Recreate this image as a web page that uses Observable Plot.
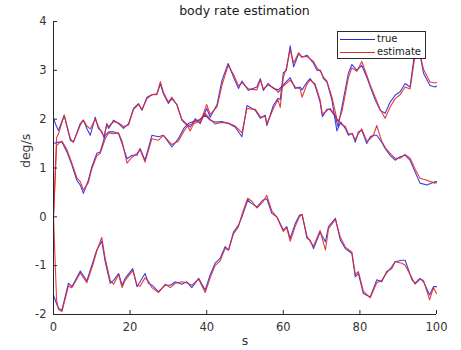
<!DOCTYPE html>
<html><head><meta charset="utf-8">
<script src="https://cdn.jsdelivr.net/npm/d3@7"></script>
<script src="https://cdn.jsdelivr.net/npm/@observablehq/plot@0.6"></script>
<style>
body{margin:0;background:#fff;font-family:"DejaVu Sans",sans-serif;}
#wrap{position:relative;width:461px;height:350px;}
#chart{position:absolute;left:0;top:0;}
#title{position:absolute;left:53px;top:2px;width:383px;height:17px;line-height:17px;text-align:center;font-size:12.5px;color:#1a1a1a;}
#legend{position:absolute;left:337px;top:31px;width:89px;height:28px;box-sizing:border-box;border:1px solid #2a2a2a;background:#fff;font-size:10px;color:#1a1a1a;}
#legend .ln{position:absolute;left:2px;width:35px;height:0;}
#legend .tx{position:absolute;left:39px;line-height:12px;}
</style></head><body>
<div id="wrap">
<div id="chart"></div>
<div id="title">body rate estimation</div>
<div id="legend"></div>
</div>
<script>
const seriesNames = ["true", "estimate"];
const seriesColors = ["#2727e0", "#e42626"];
const xTicks = [0, 20, 40, 60, 80, 100];
const yTicks = [-2, -1, 0, 1, 2, 3, 4];

const tA = [0,0.8,1.3,2.8,4.4,5.2,7,7.8,8.7,9.6,10.9,11.7,12.6,13.2,13.9,14.4,15.7,17,18.3,19.6,20.9,22.2,23.1,24.4,25.7,27,27.9,28.7,30,30.9,32.2,33.5,34.8,35.7,37,38.3,40,40.9,42.7,44,45.6,47,48.3,49.2,50.9,53.1,54,54.8,56,57.4,58.7,60,61.8,63.1,64.4,64.9,66.2,67,68.3,69.6,70.2,71.4,72.2,73.6,74.3,75.3,77,77.9,79.2,80.5,81.8,82.7,84,85.3,86.6,87.9,89.2,90.5,91.8,93.1,94.2,95.2,96.6,98.3,99.6,100];
const trueA = [2.01,1.85,1.77,2.08,1.57,1.53,1.91,1.98,1.81,1.67,2.04,1.81,1.75,1.62,1.91,1.81,1.98,1.91,1.81,1.91,2.22,2.32,2.18,2.45,2.5,2.52,2.72,2.52,2.32,2.42,2.3,1.98,1.88,1.84,2.01,1.91,2.22,2.04,2.3,2.8,3.14,2.86,2.63,2.78,2.59,2.66,2.83,2.59,2.73,2.63,2.6,2.7,2.85,2.63,2.66,2.6,2.76,2.83,2.69,2.35,2.05,2.2,2.2,2.05,1.84,2.25,2.94,3.12,3.0,3.1,2.86,2.66,2.39,2.18,2.12,2.35,2.49,2.56,2.73,2.66,3.3,3.55,2.94,2.69,2.66,2.68];
const estA = [0,1.62,1.7,2.08,1.6,1.53,1.88,1.98,1.86,1.8,2.0,1.86,1.72,1.65,1.88,1.85,1.95,1.92,1.85,1.88,2.2,2.3,2.2,2.42,2.5,2.5,2.77,2.55,2.35,2.45,2.3,2.0,1.9,1.76,1.98,1.93,2.3,2.1,2.25,2.7,3.1,2.92,2.68,2.75,2.62,2.6,2.8,2.62,2.7,2.65,2.55,2.68,2.8,2.66,2.62,2.45,2.72,2.8,2.72,2.4,2.1,2.18,2.22,2.08,1.95,2.15,2.85,3.05,2.98,3.18,2.9,2.7,2.45,2.2,2.02,2.25,2.42,2.5,2.66,2.62,3.2,3.5,3.02,2.76,2.74,2.75];

const tB = [0,0.8,1.3,2.2,3.5,4.8,6.1,7,7.8,9.1,10,11.3,12.2,13.5,14.4,15.7,17,17.9,19.2,20.5,21.8,22.6,23.9,25.7,27.4,28.7,30.9,32.6,34,35.2,36.5,37.9,39.6,40.9,42.2,44,45.7,47.4,49.2,50.5,52.7,54,55.3,55.7,57.4,58.6,59.2,60,60.8,61.8,62.7,64,64.8,66.2,67.9,68.8,69.7,70.5,71.4,72.7,74,75,76.2,77,78,78.8,79.6,80.5,81.8,82.7,83.5,84.4,85.7,86.6,87.9,89.2,90.5,91.8,93.1,94.4,95.7,97.5,99.6,100];
const trueB = [1.5,1.52,1.53,1.53,1.33,1.06,0.75,0.65,0.48,0.75,1.02,1.3,1.33,1.67,1.74,1.74,1.7,1.5,1.19,1.26,1.26,1.4,1.16,1.67,1.64,1.67,1.43,1.6,1.81,1.91,1.95,1.98,2.08,1.98,1.94,1.95,1.91,1.84,1.64,2.28,2.18,2.02,2.08,1.87,2.28,2.43,2.4,2.95,3.0,3.5,3.07,3.34,3.27,3.31,3.14,3.0,3.0,2.83,2.76,2.39,1.76,1.94,1.81,1.67,1.71,1.53,1.74,1.77,1.5,1.64,1.67,1.67,1.53,1.4,1.26,1.16,1.23,1.26,1.16,0.92,0.69,0.65,0.72,0.72];
const estB = [0,1.45,1.5,1.55,1.38,1.1,0.8,0.72,0.55,0.7,0.98,1.25,1.3,1.6,1.72,1.7,1.72,1.55,1.1,1.22,1.3,1.38,1.12,1.6,1.57,1.67,1.48,1.55,1.75,1.88,1.9,1.95,2.12,2.0,1.9,1.93,1.92,1.86,1.72,2.22,2.2,2.05,2.05,1.9,2.22,2.4,2.24,2.85,3.05,3.42,3.15,3.36,3.28,3.28,3.18,3.05,2.98,2.86,2.78,2.45,2.0,1.9,1.85,1.7,1.7,1.58,1.7,1.8,1.55,1.6,1.66,1.87,1.55,1.42,1.3,1.2,1.2,1.28,1.2,0.98,0.79,0.75,0.69,0.7];

const tC = [0,0.8,1.3,2.2,3.9,4.8,7,8.7,10.4,11.3,12.6,13.5,14.8,15.7,17,17.9,18.7,20.7,21.8,22.6,23.9,24.8,25.7,27.4,29.2,30.5,31.8,33.5,34.8,36.1,37.9,39.6,40.9,42.2,43.5,44.8,45.7,47,48.3,49.2,50.7,51.8,53.1,54.6,55.7,57,58.3,60,60.9,61.8,63.1,64.2,64.9,66.2,67,67.9,69.6,71,71.8,73.6,74.9,76.2,77.9,78.8,79.6,80.9,82.7,84.4,85.7,87,88.3,89.2,91,91.8,93.6,94.4,95.7,96.6,98.2,99.2,100];
const trueC = [-1.6,-1.78,-1.87,-1.91,-1.36,-1.43,-1.11,-1.31,-0.9,-0.68,-0.5,-0.92,-1.36,-1.3,-1.16,-1.4,-1.26,-1.06,-1.43,-1.33,-1.16,-1.36,-1.4,-1.53,-1.4,-1.4,-1.33,-1.38,-1.33,-1.45,-1.26,-1.5,-1.19,-0.95,-0.85,-0.61,-0.68,-0.31,-0.17,0.0,0.34,0.27,0.2,0.34,0.37,0.07,0.0,-0.27,-0.2,-0.44,-0.14,0.03,0.05,-0.44,-0.48,-0.65,-0.31,-0.51,-0.2,-0.03,-0.48,-0.65,-0.75,-1.23,-1.16,-1.57,-1.64,-1.29,-1.33,-1.12,-1.06,-0.92,-0.89,-0.89,-1.29,-1.36,-1.26,-1.33,-1.6,-1.43,-1.43];
const estC = [0,-1.7,-1.9,-1.94,-1.42,-1.45,-1.15,-1.35,-0.95,-0.7,-0.42,-0.85,-1.3,-1.38,-1.18,-1.45,-1.3,-1.1,-1.4,-1.42,-1.25,-1.32,-1.45,-1.55,-1.38,-1.45,-1.36,-1.33,-1.35,-1.4,-1.28,-1.55,-1.25,-1.0,-0.9,-0.65,-0.68,-0.35,-0.2,0.05,0.38,0.32,0.18,0.3,0.44,0.12,0.0,-0.3,-0.22,-0.5,-0.2,0.0,0.05,-0.4,-0.5,-0.6,-0.28,-0.68,-0.25,-0.05,-0.42,-0.62,-0.72,-1.18,-1.12,-1.52,-1.66,-1.35,-1.3,-1.15,-1.02,-0.92,-0.95,-0.99,-1.25,-1.38,-1.28,-1.3,-1.7,-1.45,-1.57];

const toRows = (ts, vs) => ts.map((t, i) => ({t, v: vs[i]}));
const lineOpts = (c) => ({x: "t", y: "v", stroke: c, strokeWidth: 1.1, strokeOpacity: 0.9});
const ink = "#262626";

const chart = Plot.plot({
  width: 461,
  height: 350,
  marginLeft: 53,
  marginRight: 25,
  marginTop: 21,
  marginBottom: 36,
  style: {fontFamily: "DejaVu Sans, sans-serif", fontSize: "11.5px", color: ink, background: "#fff", overflow: "visible"},
  x: {domain: [0, 100]},
  y: {domain: [-2, 4]},
  marks: [
    Plot.line(toRows(tA, trueA), lineOpts(seriesColors[0])),
    Plot.line(toRows(tB, trueB), lineOpts(seriesColors[0])),
    Plot.line(toRows(tC, trueC), lineOpts(seriesColors[0])),
    Plot.line(toRows(tA, estA), lineOpts(seriesColors[1])),
    Plot.line(toRows(tB, estB), lineOpts(seriesColors[1])),
    Plot.line(toRows(tC, estC), lineOpts(seriesColors[1])),
    Plot.axisY({ticks: yTicks, tickSize: 0, tickPadding: 7, tickFormat: d => String(d), label: null, fill: "#333"}),
    Plot.axisY({ticks: yTicks, tickSize: -4, text: null, label: null, stroke: ink}),
    Plot.axisX({ticks: xTicks, tickSize: 0, tickPadding: 8, tickFormat: d => String(d), label: null, fill: "#333"}),
    Plot.axisX({ticks: xTicks, tickSize: -4, text: null, label: null, stroke: ink}),
    Plot.ruleX([0], {stroke: ink}),
    Plot.ruleY([-2], {stroke: ink}),
    Plot.text(["s"], {text: d => d, frameAnchor: "bottom", dy: 30, fontSize: 12.5, fill: "#333"}),
    Plot.text(["deg/s"], {text: d => d, frameAnchor: "left", dx: -28, rotate: -90, fontSize: 12.5, fill: "#333"})
  ]
});
document.getElementById("chart").appendChild(chart);

const legend = document.getElementById("legend");
seriesNames.forEach((name, i) => {
  const ln = document.createElement("div");
  ln.className = "ln";
  ln.style.top = (7 + i * 12.5) + "px";
  ln.style.borderTop = "1px solid " + seriesColors[i];
  legend.appendChild(ln);
  const tx = document.createElement("div");
  tx.className = "tx";
  tx.style.top = (1 + i * 12.5) + "px";
  tx.textContent = name;
  legend.appendChild(tx);
});
</script>
</body></html>
